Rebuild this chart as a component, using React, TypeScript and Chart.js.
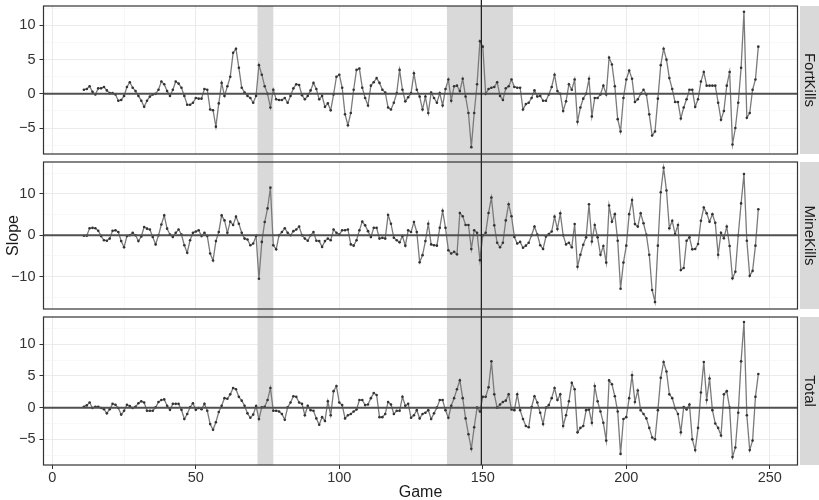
import React, { useEffect, useRef } from 'react';
import { Chart, registerables } from 'chart.js';

Chart.register(...registerables);
Chart.defaults.font.family = '"Liberation Sans", Arial, Helvetica, sans-serif';

// ---- data ----
const FIRST_GAME = 11;

const FORT_KILLS = [
  0.6, 0.7, 1.1, 0.3, -0.1, 0.8, 0.8, 1.0, 0.5, 0.1,
  0.1, -0.1, -1.0, -0.9, -0.3, 1.0, 1.7, 0.9, 0.4, -0.3,
  -1.0, -1.9, -1.0, -0.4, -0.1, 0.0, 0.6, 1.8, 1.4, 0.4,
  -0.3, 0.6, 1.8, 1.5, 0.9, -0.3, -1.6, -1.6, -1.3, -0.6,
  -0.7, -0.7, 0.7, 0.6, -2.3, -2.4, -4.8, -1.4, 1.6, -0.3,
  1.1, 2.5, 6.0, 6.6, 3.8, 0.9, 0.2, -0.3, -0.6, -1.3,
  -0.3, 4.2, 2.8, 1.1, 0.0, -2.0, 0.6, -0.8, -0.9, -0.9,
  -0.6, -1.3, -0.3, 0.8, 1.4, 1.3, -0.2, -0.8, -0.3, 0.5,
  1.6, 0.7, -0.8, -0.3, -1.9, -1.4, -2.4, -0.1, 2.5, 2.8,
  0.9, -3.0, -4.6, -2.8, 0.6, 3.5, 3.7, 0.9, -0.6, -1.7,
  1.2, 1.7, 2.3, 1.6, 0.6, 0.2, -2.0, -2.3, -1.3, 0.1,
  3.5, 0.6, -1.1, -0.5, 0.1, 3.0, 0.6, -0.4, -2.3, -0.4,
  -2.8, 0.2, -0.6, -1.3, 0.1, -1.7, 0.7, 2.1, -1.0, 1.1,
  1.2, 0.4, 2.2, -0.4, -2.8, -7.8, -2.8, 1.4, 7.7, 6.9,
  0.0, 0.7, 0.9, 1.0, 1.7, -0.3, -0.9, 0.8, 1.1, 2.1,
  1.0, 0.9, 0.9, -2.3, -1.5, -1.3, -0.6, 0.5, -0.4, -0.3,
  -1.0, -1.0, -0.1, 1.0, 2.8, 0.4, 0.0, -2.5, -1.1, 1.4,
  0.6, 2.1, -4.1, -2.0, -0.7, 0.0, 2.2, -3.3, -0.6, -0.6,
  -0.1, 1.2, -0.1, 5.3, 4.3, 1.1, -3.7, -5.5, -0.6, 2.1,
  3.4, 2.2, -1.2, -0.8, 0.0, 0.6, -0.1, -3.0, -6.1, -5.5,
  -0.7, 4.2, 6.6, 5.0, 2.3, 0.7, -1.2, -1.2, -3.6, -2.0,
  -0.8, 0.6, 0.6, -1.9, -0.8, 1.8, 3.2, 1.2, 1.2, 1.2,
  1.2, -1.3, -3.8, -2.5, 1.2, 3.2, -7.4, -5.0, -1.3, 3.8,
  12.0, -3.5, -2.8, 0.6, 2.1, 6.9,
];

const MINE_KILLS = [
  -0.1, -0.1, 1.7, 1.8, 1.7, 1.1, -0.2, -1.2, -1.3, -0.8,
  1.1, 1.2, 0.8, -1.4, -2.9, -0.2, 0.0, 0.6, 0.0, -1.4,
  -0.3, 2.0, 1.6, 1.4, -0.4, -2.2, 0.0, 2.6, 4.8, 1.6,
  0.2, -0.4, 0.6, 1.4, 0.2, -2.4, -4.2, -1.2, 0.6, 0.9,
  1.2, -0.2, 0.6, -0.2, -4.4, -6.1, -1.4, 0.8, 4.8, 3.6,
  0.6, 3.3, 2.5, 4.5, 2.8, 0.6, -0.8, -1.0, -2.4, -2.0,
  -0.2, -10.5, -1.6, 3.2, 6.5, 11.5, -2.4, -3.4, 0.0, 0.8,
  1.7, 0.6, 0.0, 1.0, 1.4, 2.1, 0.0, -0.8, -1.3, 0.0,
  0.8, -1.3, -1.4, -2.8, -1.4, -0.8, -1.2, 1.4, 0.6, 0.2,
  1.2, 1.2, 1.4, -2.2, -2.5, -1.2, 1.2, 3.3, 2.4, 1.0,
  -0.4, 1.8, 1.8, -0.8, -0.6, -0.8, 4.9, 2.8, -0.6, -1.2,
  -1.7, -0.2, -2.5, 1.2, 0.8, 3.2, 0.8, -6.5, -4.8, -1.4,
  2.8, -2.2, -2.4, -2.5, 1.8, 5.9, 1.8, -3.6, -4.4, -4.0,
  -4.6, 5.4, 4.6, 2.5, 2.5, -3.3, 1.2, 0.6, -6.0, 0.0,
  0.6, 5.4, 9.1, 2.4, -1.8, -2.9, -1.8, 3.6, 7.5, 4.6,
  -0.4, -2.0, -1.6, -3.0, -2.5, -1.8, 0.0, 2.1, 0.2, -2.4,
  -3.3, -0.3, 0.3, 0.9, 4.5, 1.5, 5.3, 0.0, -2.2, -1.8,
  -2.9, 2.7, -7.6, -4.7, -2.3, -0.5, 7.5, -1.5, 2.5, -0.5,
  -4.7, -2.6, -6.6, 7.2, 3.3, 5.1, -1.3, -12.9, -6.6, -2.5,
  5.1, 8.5, 2.7, 2.1, 5.3, 2.9, 0.1, -4.7, -13.2, -16.1,
  -2.5, 10.4, 16.3, 10.8, 1.7, 3.5, 0.3, 2.5, -8.4, -7.9,
  -1.3, -0.5, -3.4, -3.3, -2.1, 3.5, 6.7, 5.3, 3.3, 5.1,
  3.0, -4.7, 0.6, -0.7, 2.1, -2.6, -10.4, -8.8, 0.0, 7.7,
  14.8, -1.3, -9.8, -8.6, -2.5, 6.3,
];

const TOTAL = [
  0.15, 0.35, 0.8, -0.05, 0.15, 0.15, -0.05, -0.25, -0.9, -0.25,
  0.6, 0.45, -0.05, -1.1, -0.5, 0.45, 0.25, -0.05, 0.15, 0.7,
  1.0, 0.8, -0.5, -0.5, -0.5, 0.05, 0.9, 1.2, 1.3, 0.3,
  -0.35, 0.6, 0.6, 0.6, -0.35, -1.8, -1.0, 0.05, 0.7, -0.35,
  -0.05, -0.25, 0.6, -0.5, -2.6, -3.5, -2.3, -0.7, 0.3, 1.5,
  1.4, 2.1, 3.1, 2.9, 1.7, 1.1, 0.3, -0.9, -1.6, -1.1,
  0.25, -1.8, 0.05, 0.15, 1.2, 3.1, -0.5, -0.5, -0.6, -1.0,
  -1.9, 0.05, 0.8, 1.8, 1.7, 0.8, 0.6, -1.2, 0.3, -0.4,
  -0.5, -1.7, -2.7, -1.5, -2.1, 1.0, -1.2, 2.6, 3.4, 0.8,
  0.4, -1.7, -1.2, -1.0, -0.6, -0.3, 1.2, 1.2, 0.4, 0.5,
  1.5, 2.3, 2.0, -1.5, -1.5, -1.0, 0.9, 0.5, -1.0, -0.5,
  -0.5, 1.7, 0.3, 0.6, -1.6, -1.2, -0.4, -1.7, -1.0, -0.8,
  -0.4, -1.8, -0.9, 0.0, 1.2, 1.2, -0.4, -1.6, 0.3, 1.5,
  2.9, 4.3, 1.5, -1.7, -4.2, -6.5, -3.1, 0.0, -0.6, 1.7,
  1.7, 3.2, 7.3, 2.1, 0.0, 0.5, 0.9, 1.1, 2.1, -0.3,
  -0.4, 2.1, -0.4, -1.8, -2.9, -3.1, 0.1, 1.8, 0.8, -0.8,
  -2.6, 0.0, 0.4, 1.5, 3.1, 1.2, 2.1, -2.9, -1.2, 1.0,
  3.9, 2.9, -3.9, -3.2, -2.9, -0.4, -0.3, -2.4, 3.4, 1.0,
  -0.6, -2.4, -5.2, 4.3, 3.7, 1.8, -0.6, -7.3, -1.8, -1.5,
  1.5, 5.1, 0.9, 2.7, -0.4, -1.0, -1.7, -3.2, -4.7, -5.0,
  -0.4, 4.7, 7.2, 5.7, 2.1, 1.5, -0.1, -1.0, -3.9, 0.1,
  -0.3, 0.5, -5.0, -6.7, -3.2, 2.4, 7.2, 1.2, 4.6, -0.4,
  -2.5, -3.2, -4.4, 2.1, 2.6, 0.0, -7.8, -6.3, -0.8, 7.3,
  13.5, -1.2, -6.7, -5.2, 1.7, 5.3,
];

const PANEL_LABELS = ['FortKills', 'MineKills', 'Total'];
const X_TICKS = [0, 50, 100, 150, 200, 250];
const X_MINOR = [25, 75, 125, 175, 225];
const Y_TICKS = [[-5, 0, 5, 10], [-10, 0, 10], [-5, 0, 5, 10]];
const Y_MINOR = [[-7.5, -2.5, 2.5, 7.5, 12.5], [-15, -5, 5, 15], [-7.5, -2.5, 2.5, 7.5, 12.5]];
const Y_RANGES = [[-8.8, 12.85], [-17.8, 17.7], [-9.05, 14.3]];
const X_RANGE = [-3.07, 259.65];
const SHADED_RANGES = [[71.5, 77], [137.5, 160.5]];
const MARKER_GAME = 149.5;

// ---- layout (not data) ----
const FRAMES = [
  { top: 0, height: 158, padTop: 6, padBottom: 3 },
  { top: 158, height: 155, padTop: 3, padBottom: 3 },
  { top: 313, height: 187, padTop: 3, padBottom: 0 },
];
const SERIES = [FORT_KILLS, MINE_KILLS, TOTAL];

function makeDecor(i: number) {
  const isFirst = i === 0;
  const isLast = i === 2;
  return {
    id: 'decor' + i,
    beforeDatasetsDraw(chart: any) {
      const { ctx, chartArea: a, scales } = chart;
      const x = scales.x;
      const top = isFirst ? a.top : 0;
      const bottom = isLast ? a.bottom : chart.height;
      ctx.save();
      ctx.fillStyle = '#d9d9d9';
      for (const [s, e] of SHADED_RANGES) {
        const x0 = x.getPixelForValue(s);
        const x1 = x.getPixelForValue(e);
        ctx.fillRect(x0, top, x1 - x0, bottom - top);
      }
      ctx.restore();
    },
    afterDatasetsDraw(chart: any) {
      const { ctx, chartArea: a, scales } = chart;
      const x = scales.x;
      const y = scales.y;
      ctx.save();
      const y0 = y.getPixelForValue(0);
      ctx.strokeStyle = '#505050';
      ctx.lineWidth = 2;
      ctx.beginPath();
      ctx.moveTo(a.left, y0);
      ctx.lineTo(a.right, y0);
      ctx.stroke();
      const xv = x.getPixelForValue(MARKER_GAME);
      ctx.strokeStyle = '#222';
      ctx.lineWidth = 1.3;
      ctx.beginPath();
      ctx.moveTo(xv, 0);
      ctx.lineTo(xv, isLast ? a.bottom : chart.height);
      ctx.stroke();
      ctx.strokeStyle = '#333';
      ctx.lineWidth = 1.2;
      ctx.strokeRect(a.left, a.top, a.right - a.left, a.bottom - a.top);
      const sx = a.right + 2.5;
      ctx.fillStyle = '#d9d9d9';
      ctx.fillRect(sx, a.top, chart.width - sx, a.bottom - a.top);
      ctx.fillStyle = '#1a1a1a';
      ctx.font = '15px "Liberation Sans", Arial, sans-serif';
      ctx.textAlign = 'center';
      ctx.textBaseline = 'middle';
      ctx.translate((sx + chart.width) / 2, (a.top + a.bottom) / 2);
      ctx.rotate(Math.PI / 2);
      ctx.fillText(PANEL_LABELS[i], 0, 0);
      ctx.restore();
    },
  };
}

function makeConfig(i: number): any {
  const isLast = i === 2;
  const f = FRAMES[i];
  const values = SERIES[i];
  const yMajor = Y_TICKS[i];
  return {
    type: 'line',
    data: {
      datasets: [
        {
          data: values.map((v, k) => ({ x: FIRST_GAME + k, y: v })),
          borderColor: '#7a7a7a',
          borderWidth: 1.3,
          pointRadius: 1.3,
          pointBackgroundColor: '#333',
          pointBorderWidth: 0,
          tension: 0,
        },
      ],
    },
    options: {
      animation: false,
      responsive: false,
      events: [],
      layout: { padding: { left: 0, right: 21.5, top: f.padTop, bottom: f.padBottom } },
      plugins: { legend: { display: false }, tooltip: { enabled: false } },
      scales: {
        x: {
          type: 'linear',
          min: X_RANGE[0],
          max: X_RANGE[1],
          afterBuildTicks: (s: any) => {
            s.ticks = [...X_TICKS, ...X_MINOR].sort((a, b) => a - b).map((v) => ({ value: v }));
          },
          afterFit: (s: any) => {
            s.height = isLast ? 35 : 0;
            s.paddingLeft = 0;
            s.paddingRight = 0;
            s.paddingTop = 0;
            s.paddingBottom = 0;
          },
          border: { display: false },
          grid: {
            drawTicks: isLast,
            tickLength: 4,
            color: (c: any) => (X_TICKS.includes(c.tick?.value) ? '#ebebeb' : '#f3f3f3'),
            lineWidth: (c: any) => (X_TICKS.includes(c.tick?.value) ? 1 : 0.6),
            tickColor: (c: any) => (X_TICKS.includes(c.tick?.value) ? '#333' : 'rgba(0,0,0,0)'),
          },
          ticks: {
            display: isLast,
            autoSkip: false,
            maxRotation: 0,
            padding: 0,
            color: '#333',
            font: { size: 14.5 },
            callback: (v: any) => (X_TICKS.includes(v) ? String(v) : ''),
          },
          title: {
            display: isLast,
            text: 'Game',
            color: '#1a1a1a',
            font: { size: 16 },
            padding: { top: 0, bottom: -2 },
          },
        },
        y: {
          type: 'linear',
          min: Y_RANGES[i][0],
          max: Y_RANGES[i][1],
          afterBuildTicks: (s: any) => {
            s.ticks = [...yMajor, ...Y_MINOR[i]].sort((a, b) => a - b).map((v) => ({ value: v }));
          },
          afterFit: (s: any) => {
            s.width = 43.5;
            s.paddingLeft = 0;
            s.paddingRight = 0;
            s.paddingTop = 0;
            s.paddingBottom = 0;
          },
          border: { display: false },
          grid: {
            drawTicks: true,
            tickLength: 4,
            color: (c: any) => (yMajor.includes(c.tick?.value) ? '#ebebeb' : '#f3f3f3'),
            lineWidth: (c: any) => (yMajor.includes(c.tick?.value) ? 1 : 0.6),
            tickColor: (c: any) => (yMajor.includes(c.tick?.value) ? '#333' : 'rgba(0,0,0,0)'),
          },
          ticks: {
            autoSkip: false,
            padding: 4,
            color: '#333',
            font: { size: 14.5 },
            callback: (v: any) => (yMajor.includes(v) ? String(v).replace('-', '\u2212') : ''),
          },
          title: {
            display: i === 1,
            text: 'Slope',
            color: '#1a1a1a',
            font: { size: 16 },
            padding: { top: 4, bottom: 0 },
          },
        },
      },
    },
    plugins: [makeDecor(i)],
  };
}

export default function App() {
  const r0 = useRef<HTMLCanvasElement>(null);
  const r1 = useRef<HTMLCanvasElement>(null);
  const r2 = useRef<HTMLCanvasElement>(null);
  const refs = [r0, r1, r2];

  useEffect(() => {
    const charts = refs.map((r, i) => new Chart(r.current as HTMLCanvasElement, makeConfig(i)));
    return () => charts.forEach((c) => c.destroy());
  }, []);

  return (
    <div style={{ position: 'fixed', left: 0, top: 0, width: 819, height: 500, background: '#fff' }}>
      {FRAMES.map((f, i) => (
        <canvas
          key={i}
          ref={refs[i]}
          width={819}
          height={f.height}
          style={{ position: 'absolute', left: 0, top: f.top, width: 819, height: f.height, display: 'block' }}
        />
      ))}
    </div>
  );
}
